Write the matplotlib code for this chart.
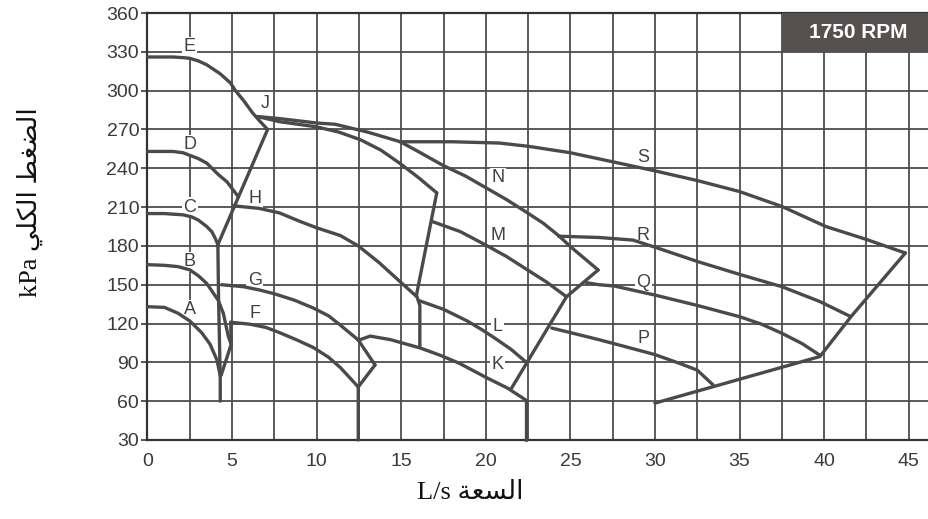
import matplotlib
matplotlib.use("Agg")
import matplotlib.pyplot as plt
from matplotlib.patches import Rectangle

# ---------------- data (L/s, kPa) ----------------
x_ticks = [0, 5, 10, 15, 20, 25, 30, 35, 40, 45]
y_ticks = [30, 60, 90, 120, 150, 180, 210, 240, 270, 300, 330, 360]

curve_A_x = [0, 1.0, 1.8, 2.5, 3.2, 3.7, 4.1, 4.3]
curve_A_y = [133, 132.5, 128, 122, 113, 104, 92, 80]
curve_B_x = [0, 1.0, 1.8, 2.5, 3.0, 3.5, 4.18, 4.48, 4.78, 4.95]
curve_B_y = [165.5, 165, 164, 161.5, 157, 151, 138, 128, 110, 104]
curve_C_x = [0, 1.0, 2.1, 2.6, 3.0, 3.5, 3.8, 4.0, 4.16]
curve_C_y = [205, 205, 204, 202.5, 200, 195, 191, 186, 181]
curve_D_x = [0, 1.5, 2.1, 2.5, 3.0, 3.5, 4.2, 4.7, 5.37]
curve_D_y = [253, 253, 252, 250, 247.5, 244, 235, 229.5, 218]
curve_E_x = [0, 1.5, 2.1, 2.5, 3.0, 3.5, 4.3, 4.9, 5.2, 5.7, 6.2, 6.6, 7.1]
curve_E_y = [326, 326, 325.5, 325, 323, 320, 313, 306, 300, 292, 283, 277, 270]
curve_F_x = [4.92, 6.05, 7.0, 7.8, 8.8, 9.8, 10.7, 11.4, 12.46]
curve_F_y = [121, 119.5, 117, 113, 107.5, 101.5, 94, 86, 71]
curve_G_x = [4.38, 5.66, 6.6, 7.5, 8.7, 9.8, 10.7, 11.38, 12.46, 13.45]
curve_G_y = [150, 148.5, 146, 143, 138, 132, 126, 119, 107.3, 88]
curve_H_x = [5.07, 6.6, 7.8, 9.0, 10, 11.4, 12.46, 13.7, 14.92, 15.9]
curve_H_y = [211, 209, 205.5, 199, 194, 188, 180, 167, 152.5, 141]
curve_J_x = [6.5, 7.8, 10, 11.1, 13.0, 14.94]
curve_J_y = [280, 278.4, 275, 274, 268, 260.5]
curve_J2_x = [6.5, 7.8, 10, 11.3, 12.6, 13.8, 14.9, 16.0, 17.1]
curve_J2_y = [280, 276, 272, 268, 262, 254, 244, 233, 221]
curve_K_x = [12.46, 13.16, 14.35, 16.1, 17.3, 18.4, 20.07, 21.3, 22.35]
curve_K_y = [107, 110.3, 107.6, 101.2, 95.5, 89.5, 78, 70, 61]
curve_L_x = [16.1, 17.5, 18.9, 19.8, 20.5, 21.5, 22.4]
curve_L_y = [137.5, 131, 122, 115, 109, 100, 90]
curve_M_x = [16.8, 18.5, 19.95, 21.2, 22.4, 23.6, 24.77]
curve_M_y = [199, 191, 181, 172, 162, 152, 140.7]
curve_N_x = [14.94, 16, 17.5, 18.8, 20, 21.2, 22.35, 23.4, 24.3, 25, 26.64]
curve_N_y = [260.5, 253, 242, 234, 225, 216, 206.5, 197.5, 188, 179.5, 161.4]
curve_P_x = [23.9, 25, 26.7, 28, 30, 31.5, 32.5, 33.44]
curve_P_y = [116.5, 113, 107.5, 103, 96, 89, 84, 72.5]
curve_Q_x = [25.96, 26.7, 27.6, 30, 32.5, 35, 36.3, 37.5, 38.7, 39.75]
curve_Q_y = [151.5, 150, 149, 142, 134, 125.3, 119.5, 112.5, 104.5, 95.5]
curve_R_x = [24.3, 26.7, 28.7, 30, 32.5, 35, 37.5, 39.75, 41.55]
curve_R_y = [187.5, 186.5, 184.5, 179, 168, 158, 148.5, 137, 125.5]
curve_S_x = [14.94, 18, 20.8, 22.5, 25, 27.5, 30, 32.5, 35, 37.5, 40.1, 42.5, 44.8]
curve_S_y = [260.5, 260.5, 259.5, 257, 252, 245, 238, 230.5, 222, 210.5, 195, 185, 174.5]

# boundary / stem lines
edge_1_x = [4.16, 4.2, 4.3, 4.3]          # stem under C
edge_1_y = [181, 140, 78, 60]
edge_2_x = [4.92, 4.95, 4.35]             # F stem and V to A
edge_2_y = [121, 104, 80]
edge_3_x = [4.16, 7.1]                    # C -> E boundary
edge_3_y = [181, 270]
edge_4_x = [13.45, 12.46, 12.46]          # G V and F stem
edge_4_y = [88, 71, 30]
edge_5_x = [17.1, 15.9, 16.1, 16.1]       # J2 -> H / K
edge_5_y = [221, 142, 134, 102]
edge_6_x = [26.64, 24.77, 21.52]          # N -> K boundary
edge_6_y = [161.4, 140.7, 70]
edge_7_x = [22.35, 22.35]                 # K stem
edge_7_y = [61, 30]
edge_8_x = [44.8, 41.6, 39.75, 30]        # S -> bottom
edge_8_y = [174.5, 125.5, 94.5, 58.5]

labels = ["A", "B", "C", "D", "E", "F", "G", "H", "J",
          "K", "L", "M", "N", "P", "Q", "R", "S"]
label_x = [2.5, 2.5, 2.5, 2.5, 2.5, 6.34, 6.34, 6.34, 6.94,
           20.7, 20.7, 20.7, 20.7, 29.3, 29.3, 29.3, 29.3]
label_y = [130.5, 167.6, 210, 258, 334, 128, 153.6, 217, 290.4,
           88, 118, 188.4, 232.5, 108.8, 152, 188.4, 248.7]

rpm_text = "1750 RPM"

# ---------------- figure ----------------
W, H = 929, 519
fig = plt.figure(figsize=(W / 100, H / 100), dpi=100)
ax = fig.add_axes([147.5 / W, 1 - 440 / H, 1 - 147.5 / W, (440 - 13) / H])
ax.set_xlim(0, 46.2)
ax.set_ylim(30, 360)

grid_c = "#4d4d4d"
curve_c = "#4a4a4a"

# grid
for gx in [i * 2.5 for i in range(1, 19)]:
    ax.axvline(gx, color=grid_c, lw=1.3, zorder=1)
for gy in y_ticks[1:-1]:
    ax.axhline(gy, color=grid_c, lw=1.3, zorder=1)

ax.set_xticks(x_ticks)
ax.set_yticks(y_ticks)
ax.tick_params(axis="x", length=0, pad=9, labelsize=14, colors="#3a3a3a")
ax.tick_params(axis="y", length=4, width=1.2, pad=2, labelsize=14, colors="#3a3a3a")
for lab in ax.get_xticklabels() + ax.get_yticklabels():
    lab.set_fontfamily("Liberation Sans")
    lab.set_color("#3a3a3a")
ax.spines["right"].set_visible(False)
for s in ["left", "bottom", "top"]:
    ax.spines[s].set_color("#333333")
    ax.spines[s].set_linewidth(1.6)

curves = [
    (curve_A_x, curve_A_y), (curve_B_x, curve_B_y), (curve_C_x, curve_C_y),
    (curve_D_x, curve_D_y), (curve_E_x, curve_E_y), (curve_F_x, curve_F_y),
    (curve_G_x, curve_G_y), (curve_H_x, curve_H_y), (curve_J_x, curve_J_y),
    (curve_J2_x, curve_J2_y), (curve_K_x, curve_K_y), (curve_L_x, curve_L_y),
    (curve_M_x, curve_M_y), (curve_N_x, curve_N_y), (curve_P_x, curve_P_y),
    (curve_Q_x, curve_Q_y), (curve_R_x, curve_R_y), (curve_S_x, curve_S_y),
    (edge_1_x, edge_1_y), (edge_2_x, edge_2_y), (edge_3_x, edge_3_y),
    (edge_4_x, edge_4_y), (edge_5_x, edge_5_y), (edge_6_x, edge_6_y),
    (edge_7_x, edge_7_y), (edge_8_x, edge_8_y),
]
for cx, cy in curves:
    ax.plot(cx, cy, color=curve_c, lw=2.4, solid_joinstyle="round",
            solid_capstyle="round", zorder=3, clip_on=False)

for t, lx, ly in zip(labels, label_x, label_y):
    ax.text(lx, ly, t, ha="center", va="center", fontsize=13,
            family="Liberation Sans", color="#404040", zorder=2,
            bbox=dict(facecolor="white", edgecolor="none", pad=1.0))

# RPM box
ax.add_patch(Rectangle((37.5, 330), 8.7, 30, facecolor="#575050",
                       edgecolor="none", zorder=4, clip_on=False))
ax.text(42.0, 345, rpm_text, ha="center", va="center", fontsize=15,
        fontweight="bold", family="Liberation Sans", color="white", zorder=5)

# axis titles (Arabic pre-shaped, visual order)
ylab = "kPa " + "\uFEF2\uFEE0\uFEDC\uFEDF\uFE8D" + " " + "\uFEC2\uFED0\uFEC0\uFEDF\uFE8D"
xlab = "L/s " + "\uFE94\uFECC\uFEB4\uFEDF\uFE8D"
fig.text(30 / W, 1 - 202 / H, ylab, rotation=90, ha="center", va="center",
         fontsize=19, family=["Liberation Serif", "DejaVu Sans"], color="#111111")
fig.text(470 / W, 1 - 493 / H, xlab, ha="center", va="center",
         fontsize=19, family=["Liberation Serif", "DejaVu Sans"], color="#111111")

fig.savefig("out.png", dpi=100)
